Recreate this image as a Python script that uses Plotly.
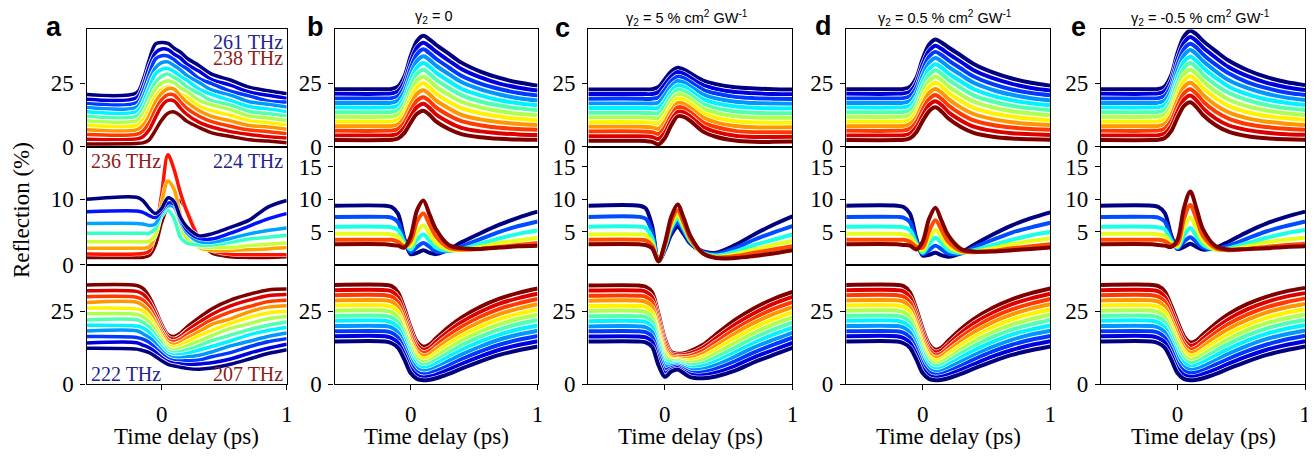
import plotly.graph_objects as go

# ---------------- data ----------------
T = [-0.6, -0.2, -0.15, -0.1, -0.05, 0.0, 0.05, 0.1, 0.15, 0.2, 0.3, 0.4, 0.55, 0.7, 0.85, 1.0]

# panel a (experiment) : curves ordered from highest frequency (navy) to lowest (dark red)
a_top = [
    [20.5, 21.2, 26.0, 34.0, 40.3, 40.9, 40.5, 38.6, 37.1, 34.8, 31.8, 28.5, 26.2, 23.4, 22.0, 20.8],
    [18.7, 19.3, 23.8, 31.3, 36.8, 38.3, 38.1, 36.3, 34.8, 32.5, 29.6, 26.4, 24.2, 21.5, 20.2, 19.0],
    [17.0, 17.4, 21.6, 28.5, 34.4, 35.7, 35.6, 34.1, 32.1, 30.7, 26.8, 24.8, 21.8, 20.0, 18.0, 17.6],
    [15.4, 15.6, 19.4, 25.8, 31.0, 33.0, 33.3, 31.8, 30.2, 28.0, 25.2, 22.3, 20.3, 17.7, 16.7, 15.6],
    [13.8, 13.9, 17.2, 23.1, 28.6, 30.4, 30.7, 29.5, 27.6, 26.2, 22.6, 20.6, 18.2, 15.8, 14.9, 13.8],
    [12.0, 12.1, 15.0, 20.4, 25.3, 27.7, 28.5, 27.2, 25.7, 23.5, 20.9, 18.1, 16.4, 13.9, 13.1, 12.1],
    [10.3, 10.3, 12.8, 17.6, 22.7, 25.0, 25.9, 25.1, 23.1, 21.8, 18.2, 16.5, 14.6, 12.1, 11.3, 10.4],
    [8.5, 8.5, 10.6, 14.9, 19.8, 22.4, 23.6, 22.7, 20.8, 19.5, 16.0, 14.2, 12.4, 10.3, 9.5, 8.6],
    [6.7, 6.7, 8.4, 12.2, 17.5, 21.0, 22.8, 22.6, 20.0, 17.6, 14.2, 12.0, 10.2, 8.4, 7.8, 6.9],
    [4.9, 5.0, 6.2, 9.5, 14.5, 18.5, 20.5, 20.3, 17.6, 15.2, 12.0, 9.9, 8.1, 6.6, 6.0, 5.2],
    [3.0, 3.1, 4.0, 6.7, 11.5, 16.0, 18.2, 18.0, 15.2, 12.8, 9.6, 7.8, 6.0, 4.9, 4.0, 3.5],
    [1.2, 1.4, 1.6, 2.8, 6.5, 10.5, 13.2, 13.7, 12.2, 10.1, 7.6, 5.5, 4.1, 2.8, 2.3, 1.7],
]
a_mid = [
    [10.0, 10.3, 9.8, 8.6, 7.8, 8.6, 10.2, 9.6, 7.2, 5.8, 4.4, 4.7, 5.7, 6.8, 8.8, 9.8],
    [8.1, 8.2, 8.0, 7.5, 7.2, 8.3, 9.4, 9.2, 7.0, 5.3, 4.0, 3.9, 4.8, 5.9, 7.0, 7.8],
    [6.3, 6.3, 6.2, 6.0, 6.2, 8.0, 9.0, 8.8, 6.6, 4.9, 3.5, 3.4, 4.0, 4.7, 5.2, 5.6],
    [4.8, 4.8, 4.8, 4.8, 5.5, 7.5, 8.3, 7.0, 4.2, 3.3, 3.0, 3.0, 3.4, 3.9, 4.2, 4.5],
    [3.5, 3.5, 3.5, 3.6, 4.5, 7.8, 9.5, 8.8, 6.0, 4.0, 2.8, 2.6, 2.6, 2.9, 3.1, 3.3],
    [2.5, 2.5, 2.5, 2.7, 4.5, 9.5, 12.8, 11.5, 7.5, 4.8, 2.6, 2.2, 2.2, 2.3, 2.4, 2.6],
    [1.6, 1.6, 1.7, 2.0, 5.0, 10.8, 16.8, 14.5, 11.0, 8.2, 4.0, 2.2, 1.6, 1.5, 1.5, 1.5],
    [1.1, 1.1, 1.1, 1.4, 3.0, 6.5, 8.8, 9.6, 9.7, 8.3, 4.0, 1.8, 1.2, 1.1, 1.1, 1.2],
]
a_bot = [
    [12.3, 12.0, 11.5, 10.8, 9.5, 8.0, 6.8, 6.2, 5.8, 5.4, 5.1, 5.5, 6.8, 8.6, 10.5, 11.8],
    [14.1, 14.2, 13.4, 12.5, 11.0, 9.1, 7.7, 7.1, 6.9, 6.7, 6.9, 7.3, 8.6, 10.6, 12.3, 13.7],
    [16.3, 16.0, 15.4, 14.3, 12.4, 10.3, 8.7, 8.0, 7.9, 8.0, 8.3, 9.4, 10.8, 12.8, 14.5, 15.6],
    [18.2, 18.3, 17.3, 16.0, 13.9, 11.4, 9.6, 9.0, 9.0, 9.3, 9.9, 11.0, 13.1, 14.7, 16.3, 17.5],
    [20.2, 19.9, 19.3, 17.8, 15.3, 12.6, 10.5, 9.9, 10.1, 10.5, 11.7, 12.9, 14.8, 16.9, 18.4, 19.4],
    [22.0, 22.1, 21.2, 19.5, 16.8, 13.7, 11.4, 10.8, 11.1, 11.8, 13.2, 14.9, 16.8, 18.7, 20.2, 21.3],
    [24.1, 23.9, 23.1, 21.3, 18.2, 14.8, 12.4, 11.7, 12.2, 13.1, 14.8, 16.6, 19.1, 20.7, 22.4, 23.2],
    [26.1, 25.8, 25.1, 23.0, 19.7, 16.0, 13.3, 12.6, 13.3, 14.4, 16.6, 18.4, 20.8, 22.9, 24.4, 25.0],
    [28.0, 28.1, 27.0, 24.8, 21.1, 17.1, 14.2, 13.6, 14.3, 15.7, 18.0, 20.5, 22.4, 24.8, 26.4, 26.9],
    [30.0, 29.8, 28.9, 26.5, 22.6, 18.2, 15.2, 14.5, 15.4, 16.9, 19.6, 22.1, 24.8, 26.6, 28.3, 28.8],
    [32.0, 31.8, 30.9, 28.3, 24.1, 19.4, 16.1, 15.4, 16.4, 18.2, 21.2, 23.9, 26.8, 28.8, 30.3, 30.7],
    [34.0, 33.8, 32.8, 30.0, 25.5, 20.5, 17.0, 16.3, 17.5, 19.5, 22.8, 25.8, 28.8, 30.8, 32.3, 32.6],
]

# panel b : gamma2 = 0
b_top = [
    [22.6, 22.6, 22.7, 23.6, 27.5, 35.5, 41.5, 43.5, 42.0, 40.0, 36.5, 33.0, 29.5, 27.0, 25.2, 24.0],
    [20.8, 20.8, 20.9, 21.8, 25.5, 33.1, 38.9, 40.8, 39.3, 37.3, 33.8, 30.5, 27.2, 24.8, 23.2, 22.1],
    [19.0, 19.0, 19.1, 19.9, 23.5, 30.8, 36.3, 38.2, 36.6, 34.5, 31.1, 27.9, 24.8, 22.7, 21.1, 20.1],
    [17.2, 17.2, 17.3, 18.1, 21.5, 28.4, 33.7, 35.5, 34.0, 31.8, 28.5, 25.4, 22.5, 20.5, 19.1, 18.2],
    [15.4, 15.4, 15.5, 16.2, 19.5, 26.0, 31.1, 32.8, 31.3, 29.1, 25.8, 22.8, 20.2, 18.3, 17.1, 16.3],
    [13.6, 13.6, 13.7, 14.4, 17.5, 23.7, 28.6, 30.2, 28.6, 26.4, 23.1, 20.3, 17.8, 16.2, 15.1, 14.4],
    [11.8, 11.8, 11.9, 12.5, 15.5, 21.3, 26.0, 27.5, 25.9, 23.6, 20.4, 17.7, 15.5, 14.0, 13.0, 12.4],
    [9.9, 9.9, 10.0, 10.7, 13.5, 19.0, 23.4, 24.9, 23.2, 20.9, 17.7, 15.2, 13.2, 11.9, 11.0, 10.5],
    [8.1, 8.1, 8.2, 8.8, 11.5, 16.6, 20.8, 22.2, 20.5, 18.2, 15.1, 12.6, 10.8, 9.7, 9.0, 8.6],
    [6.3, 6.3, 6.4, 7.0, 9.5, 14.2, 18.2, 19.5, 17.9, 15.5, 12.4, 10.1, 8.5, 7.5, 7.0, 6.7],
    [4.5, 4.5, 4.6, 5.1, 7.5, 11.9, 15.6, 16.9, 15.2, 12.7, 9.7, 7.5, 6.1, 5.4, 4.9, 4.7],
    [2.7, 2.7, 2.8, 3.3, 5.5, 9.5, 13.0, 14.2, 12.5, 10.0, 7.0, 5.0, 3.8, 3.2, 2.9, 2.8],
]
b_mid = [
    [9.0, 9.0, 8.8, 7.8, 4.0, 1.6, 1.8, 2.2, 1.8, 1.6, 2.3, 3.4, 4.8, 6.1, 7.2, 8.1],
    [7.3, 7.3, 7.2, 6.5, 3.8, 1.9, 2.7, 3.3, 2.7, 2.0, 2.1, 2.8, 3.9, 5.0, 5.9, 6.6],
    [5.8, 5.8, 5.7, 5.3, 3.4, 2.3, 3.8, 4.6, 3.6, 2.6, 2.1, 2.4, 3.2, 4.0, 4.7, 5.2],
    [4.7, 4.7, 4.6, 4.3, 3.1, 2.8, 5.0, 6.0, 4.7, 3.3, 2.3, 2.2, 2.7, 3.3, 3.7, 4.1],
    [3.8, 3.8, 3.8, 3.5, 2.8, 3.6, 6.6, 7.8, 6.1, 4.3, 2.6, 2.3, 2.4, 2.7, 3.0, 3.3],
    [3.1, 3.1, 3.0, 2.9, 2.6, 4.3, 8.3, 9.8, 7.6, 5.4, 3.0, 2.5, 2.4, 2.6, 2.8, 2.9],
]
b_bot = [
    [14.6, 14.6, 14.0, 12.5, 8.5, 3.8, 1.8, 1.3, 1.5, 2.0, 3.5, 5.3, 7.8, 10.0, 11.6, 12.9],
    [16.4, 16.4, 15.8, 14.2, 10.1, 5.2, 3.0, 2.3, 2.6, 3.2, 5.0, 6.9, 9.5, 11.8, 13.4, 14.7],
    [18.1, 18.1, 17.6, 16.0, 11.7, 6.7, 4.1, 3.4, 3.7, 4.5, 6.4, 8.5, 11.2, 13.5, 15.2, 16.5],
    [19.9, 19.9, 19.4, 17.7, 13.3, 8.1, 5.3, 4.4, 4.8, 5.7, 7.9, 10.1, 12.9, 15.3, 17.0, 18.3],
    [21.7, 21.7, 21.1, 19.4, 14.9, 9.5, 6.4, 5.5, 5.9, 7.0, 9.4, 11.7, 14.6, 17.0, 18.8, 20.1],
    [23.4, 23.4, 22.9, 21.1, 16.5, 10.9, 7.6, 6.5, 7.0, 8.2, 10.8, 13.3, 16.3, 18.8, 20.6, 22.0],
    [25.2, 25.2, 24.7, 22.9, 18.1, 12.4, 8.7, 7.6, 8.1, 9.5, 12.3, 14.9, 18.0, 20.5, 22.4, 23.8],
    [27.0, 27.0, 26.5, 24.6, 19.6, 13.8, 9.9, 8.6, 9.2, 10.7, 13.8, 16.4, 19.7, 22.3, 24.1, 25.6],
    [28.7, 28.7, 28.3, 26.3, 21.2, 15.2, 11.0, 9.7, 10.3, 12.0, 15.2, 18.0, 21.4, 24.0, 25.9, 27.4],
    [30.5, 30.5, 30.0, 28.1, 22.8, 16.7, 12.2, 10.7, 11.4, 13.2, 16.7, 19.6, 23.1, 25.8, 27.7, 29.2],
    [32.2, 32.2, 31.8, 29.8, 24.4, 18.1, 13.4, 11.8, 12.5, 14.5, 18.1, 21.2, 24.8, 27.6, 29.5, 31.0],
    [34.0, 34.0, 33.6, 31.5, 26.0, 19.5, 14.5, 12.8, 13.6, 15.7, 19.6, 22.8, 26.5, 29.3, 31.3, 32.8],
]

# panel c : gamma2 = 5 % cm2/GW
c_top = [
    [22.5, 22.5, 22.5, 22.6, 23.5, 26.5, 29.5, 31.0, 30.3, 28.8, 26.0, 24.6, 23.4, 22.9, 22.6, 22.5],
    [20.7, 20.7, 20.7, 20.7, 21.5, 24.4, 27.6, 29.3, 28.6, 27.1, 24.2, 22.7, 21.5, 21.0, 20.7, 20.6],
    [18.9, 18.9, 18.8, 18.9, 19.4, 22.3, 25.7, 27.5, 26.9, 25.4, 22.4, 20.9, 19.6, 19.1, 18.9, 18.8],
    [17.0, 17.0, 17.0, 17.0, 17.4, 20.2, 23.8, 25.8, 25.3, 23.7, 20.5, 19.0, 17.7, 17.2, 17.0, 16.9],
    [15.2, 15.2, 15.2, 15.1, 15.3, 18.1, 21.9, 24.1, 23.6, 22.0, 18.7, 17.1, 15.8, 15.3, 15.1, 15.1],
    [13.4, 13.4, 13.3, 13.2, 13.3, 16.1, 20.0, 22.4, 21.9, 20.4, 16.9, 15.2, 13.9, 13.4, 13.2, 13.2],
    [11.5, 11.5, 11.5, 11.4, 11.2, 14.0, 18.1, 20.6, 20.2, 18.7, 15.1, 13.4, 12.0, 11.5, 11.4, 11.4],
    [9.7, 9.7, 9.6, 9.5, 9.2, 11.9, 16.1, 18.9, 18.5, 17.0, 13.3, 11.5, 10.1, 9.6, 9.5, 9.5],
    [7.9, 7.9, 7.8, 7.6, 7.1, 9.8, 14.2, 17.2, 16.9, 15.3, 11.5, 9.6, 8.2, 7.7, 7.6, 7.7],
    [6.1, 6.1, 6.0, 5.8, 5.1, 7.7, 12.3, 15.5, 15.2, 13.6, 9.6, 7.8, 6.3, 5.8, 5.8, 5.8],
    [4.2, 4.2, 4.1, 3.9, 3.1, 5.6, 10.4, 13.7, 13.5, 11.9, 7.8, 5.9, 4.4, 3.9, 3.9, 4.0],
    [2.4, 2.4, 2.3, 2.0, 1.0, 3.5, 8.5, 12.0, 11.8, 10.2, 6.0, 4.0, 2.5, 2.0, 2.0, 2.1],
]
c_mid = [
    [9.0, 9.0, 8.6, 5.9, 0.5, 2.2, 4.6, 5.8, 4.6, 3.2, 2.0, 1.8, 3.0, 4.6, 6.1, 7.4],
    [7.3, 7.3, 7.0, 5.0, 0.5, 2.4, 5.1, 6.4, 5.0, 3.4, 1.9, 1.6, 2.5, 3.8, 4.9, 5.9],
    [5.8, 5.8, 5.6, 4.1, 0.5, 2.6, 5.6, 7.0, 5.4, 3.6, 1.8, 1.4, 2.0, 3.0, 3.8, 4.6],
    [4.6, 4.6, 4.5, 3.4, 0.5, 2.8, 6.0, 7.5, 5.8, 3.8, 1.7, 1.2, 1.6, 2.3, 3.0, 3.6],
    [3.8, 3.8, 3.7, 2.9, 0.5, 3.0, 6.6, 8.3, 6.3, 4.0, 1.7, 1.1, 1.3, 1.8, 2.3, 2.8],
    [3.1, 3.1, 3.0, 2.5, 0.5, 3.3, 7.3, 9.2, 7.0, 4.4, 1.7, 1.0, 1.0, 1.3, 1.7, 2.2],
]
c_bot = [
    [14.6, 14.6, 14.3, 12.8, 6.5, 2.5, 4.3, 5.0, 3.7, 2.4, 2.0, 2.6, 4.6, 7.5, 10.0, 12.4],
    [16.3, 16.3, 16.0, 14.5, 8.1, 3.7, 4.9, 5.5, 4.3, 3.2, 3.0, 3.9, 6.2, 9.2, 11.7, 14.1],
    [18.1, 18.1, 17.8, 16.2, 9.7, 4.9, 5.5, 6.0, 5.0, 4.0, 4.1, 5.2, 7.8, 10.9, 13.5, 15.9],
    [19.8, 19.8, 19.5, 17.9, 11.3, 6.1, 6.1, 6.5, 5.6, 4.8, 5.1, 6.5, 9.4, 12.6, 15.2, 17.6],
    [21.6, 21.6, 21.3, 19.6, 12.9, 7.2, 6.7, 7.0, 6.2, 5.6, 6.2, 7.8, 10.9, 14.2, 17.0, 19.4],
    [23.3, 23.3, 23.0, 21.3, 14.5, 8.4, 7.4, 7.5, 6.8, 6.5, 7.2, 9.2, 12.5, 15.9, 18.7, 21.1],
    [25.1, 25.1, 24.7, 23.0, 16.1, 9.6, 8.0, 8.0, 7.5, 7.3, 8.3, 10.5, 14.1, 17.6, 20.5, 22.9],
    [26.8, 26.8, 26.5, 24.7, 17.6, 10.8, 8.6, 8.4, 8.1, 8.1, 9.3, 11.8, 15.7, 19.3, 22.2, 24.6],
    [28.6, 28.6, 28.2, 26.4, 19.2, 12.0, 9.2, 8.9, 8.7, 8.9, 10.4, 13.1, 17.3, 21.0, 24.0, 26.4],
    [30.3, 30.3, 29.9, 28.1, 20.8, 13.1, 9.8, 9.4, 9.4, 9.7, 11.4, 14.4, 18.8, 22.6, 25.7, 28.1],
    [32.1, 32.1, 31.7, 29.8, 22.4, 14.3, 10.4, 9.9, 10.0, 10.5, 12.5, 15.7, 20.4, 24.3, 27.5, 29.9],
    [33.8, 33.8, 33.4, 31.5, 24.0, 15.5, 11.0, 10.4, 10.6, 11.3, 13.5, 17.0, 22.0, 26.0, 29.2, 31.6],
]

# panel d : gamma2 = 0.5 % cm2/GW
d_top = [
    [22.6, 22.6, 22.7, 23.5, 27.0, 34.5, 40.0, 42.0, 40.8, 39.0, 35.8, 32.5, 29.2, 26.8, 25.1, 24.0],
    [20.8, 20.8, 20.9, 21.7, 25.1, 32.3, 37.6, 39.6, 38.3, 36.5, 33.3, 30.0, 26.9, 24.7, 23.1, 22.1],
    [19.0, 19.0, 19.1, 19.9, 23.2, 30.1, 35.3, 37.2, 35.9, 34.0, 30.7, 27.6, 24.6, 22.5, 21.1, 20.2],
    [17.2, 17.2, 17.3, 18.0, 21.2, 27.9, 32.9, 34.8, 33.4, 31.4, 28.2, 25.1, 22.3, 20.4, 19.1, 18.2],
    [15.4, 15.4, 15.5, 16.2, 19.3, 25.7, 30.5, 32.4, 31.0, 28.9, 25.6, 22.7, 20.0, 18.3, 17.1, 16.3],
    [13.6, 13.6, 13.7, 14.4, 17.4, 23.5, 28.2, 30.0, 28.5, 26.4, 23.1, 20.2, 17.8, 16.1, 15.1, 14.4],
    [11.8, 11.8, 11.9, 12.5, 15.4, 21.3, 25.8, 27.6, 26.1, 23.8, 20.5, 17.8, 15.5, 14.0, 13.1, 12.4],
    [9.9, 9.9, 10.0, 10.7, 13.5, 19.0, 23.5, 25.1, 23.6, 21.3, 18.0, 15.3, 13.2, 11.9, 11.0, 10.5],
    [8.1, 8.1, 8.2, 8.9, 11.6, 16.8, 21.1, 22.7, 21.2, 18.8, 15.4, 12.9, 10.9, 9.7, 9.0, 8.6],
    [6.3, 6.3, 6.4, 7.1, 9.7, 14.6, 18.7, 20.3, 18.7, 16.3, 12.9, 10.4, 8.6, 7.6, 7.0, 6.7],
    [4.5, 4.5, 4.6, 5.2, 7.7, 12.4, 16.4, 17.9, 16.3, 13.7, 10.4, 8.0, 6.3, 5.4, 5.0, 4.7],
    [2.7, 2.7, 2.8, 3.4, 5.8, 10.2, 14.0, 15.5, 13.8, 11.2, 7.8, 5.5, 4.0, 3.3, 3.0, 2.8],
]
d_mid = [
    [9.0, 9.0, 8.8, 7.8, 4.0, 1.4, 1.5, 1.8, 1.4, 1.2, 1.8, 3.0, 4.6, 6.0, 7.1, 8.0],
    [7.3, 7.3, 7.2, 6.5, 3.7, 1.6, 2.2, 2.9, 2.3, 1.7, 1.7, 2.6, 3.8, 4.9, 5.7, 6.4],
    [5.8, 5.8, 5.7, 5.3, 3.3, 1.8, 3.1, 4.1, 3.2, 2.2, 1.8, 2.2, 3.0, 3.8, 4.5, 5.0],
    [4.7, 4.7, 4.6, 4.3, 3.0, 2.1, 4.0, 5.3, 4.1, 2.8, 1.9, 2.0, 2.5, 3.1, 3.6, 4.0],
    [3.8, 3.8, 3.8, 3.5, 2.7, 2.6, 5.1, 6.8, 5.2, 3.5, 2.1, 1.9, 2.1, 2.5, 2.8, 3.1],
    [3.1, 3.1, 3.0, 2.9, 2.3, 3.5, 7.0, 8.7, 6.6, 4.5, 2.4, 2.0, 2.0, 2.2, 2.4, 2.6],
]
d_bot = [
    [14.6, 14.6, 14.0, 12.5, 8.5, 3.8, 1.8, 1.3, 1.5, 2.0, 3.5, 5.3, 7.8, 10.0, 11.6, 12.9],
    [16.4, 16.4, 15.8, 14.2, 10.1, 5.2, 2.9, 2.3, 2.5, 3.2, 4.9, 6.8, 9.5, 11.7, 13.4, 14.7],
    [18.1, 18.1, 17.6, 16.0, 11.7, 6.6, 4.0, 3.2, 3.5, 4.3, 6.3, 8.4, 11.2, 13.5, 15.2, 16.5],
    [19.9, 19.9, 19.4, 17.7, 13.2, 8.0, 5.1, 4.2, 4.5, 5.5, 7.7, 9.9, 12.8, 15.2, 17.0, 18.3],
    [21.7, 21.7, 21.1, 19.4, 14.8, 9.3, 6.1, 5.1, 5.5, 6.7, 9.1, 11.5, 14.5, 17.0, 18.7, 20.1],
    [23.4, 23.4, 22.9, 21.1, 16.4, 10.7, 7.2, 6.1, 6.6, 7.8, 10.5, 13.0, 16.2, 18.7, 20.5, 22.0],
    [25.2, 25.2, 24.7, 22.9, 17.9, 12.1, 8.3, 7.0, 7.6, 9.0, 11.9, 14.6, 17.8, 20.4, 22.3, 23.8],
    [27.0, 27.0, 26.5, 24.6, 19.5, 13.5, 9.4, 8.0, 8.6, 10.2, 13.3, 16.1, 19.5, 22.2, 24.1, 25.6],
    [28.7, 28.7, 28.3, 26.3, 21.1, 14.9, 10.5, 8.9, 9.6, 11.3, 14.7, 17.7, 21.2, 23.9, 25.9, 27.4],
    [30.5, 30.5, 30.0, 28.1, 22.7, 16.2, 11.5, 9.9, 10.6, 12.5, 16.1, 19.2, 22.9, 25.6, 27.6, 29.2],
    [32.2, 32.2, 31.8, 29.8, 24.2, 17.6, 12.6, 10.9, 11.6, 13.6, 17.5, 20.8, 24.5, 27.4, 29.4, 31.0],
    [34.0, 34.0, 33.6, 31.5, 25.8, 19.0, 13.7, 11.8, 12.6, 14.8, 18.9, 22.3, 26.2, 29.1, 31.2, 32.8],
]

# panel e : gamma2 = -0.5 % cm2/GW
e_top = [
    [22.6, 22.6, 22.7, 23.7, 28.0, 36.8, 43.2, 45.5, 44.0, 41.5, 37.5, 33.8, 30.0, 27.3, 25.4, 24.2],
    [20.8, 20.8, 20.9, 21.9, 26.0, 34.5, 40.7, 43.0, 41.4, 38.9, 34.9, 31.3, 27.7, 25.1, 23.4, 22.3],
    [19.0, 19.0, 19.1, 20.0, 24.0, 32.2, 38.3, 40.4, 38.8, 36.2, 32.2, 28.8, 25.3, 23.0, 21.3, 20.3],
    [17.2, 17.2, 17.3, 18.2, 22.1, 29.9, 35.8, 37.9, 36.2, 33.6, 29.6, 26.2, 23.0, 20.8, 19.3, 18.4],
    [15.4, 15.4, 15.5, 16.4, 20.1, 27.6, 33.3, 35.3, 33.6, 31.0, 27.0, 23.7, 20.6, 18.6, 17.3, 16.4],
    [13.6, 13.6, 13.7, 14.5, 18.1, 25.3, 30.8, 32.8, 31.1, 28.3, 24.3, 21.2, 18.3, 16.4, 15.2, 14.5],
    [11.8, 11.8, 11.9, 12.7, 16.1, 23.0, 28.4, 30.2, 28.5, 25.7, 21.7, 18.6, 15.9, 14.3, 13.2, 12.5],
    [9.9, 9.9, 10.0, 10.9, 14.1, 20.7, 25.9, 27.7, 25.9, 23.1, 19.1, 16.1, 13.6, 12.1, 11.2, 10.6],
    [8.1, 8.1, 8.2, 9.0, 12.2, 18.4, 23.4, 25.1, 23.3, 20.4, 16.4, 13.6, 11.2, 9.9, 9.1, 8.6],
    [6.3, 6.3, 6.4, 7.2, 10.2, 16.1, 21.0, 22.6, 20.7, 17.8, 13.8, 11.1, 8.9, 7.8, 7.1, 6.7],
    [4.5, 4.5, 4.6, 5.3, 8.2, 13.8, 18.5, 20.1, 18.1, 15.1, 11.1, 8.5, 6.6, 5.6, 5.0, 4.8],
    [2.7, 2.7, 2.8, 3.5, 6.2, 11.5, 16.0, 17.5, 15.5, 12.5, 8.5, 6.0, 4.2, 3.4, 3.0, 2.8],
]
e_mid = [
    [9.0, 9.0, 8.8, 7.9, 4.5, 2.4, 2.7, 3.2, 2.7, 2.3, 2.6, 3.5, 5.0, 6.3, 7.3, 8.1],
    [7.3, 7.3, 7.2, 6.6, 4.1, 2.5, 3.5, 4.2, 3.4, 2.6, 2.4, 2.9, 4.0, 5.1, 5.9, 6.6],
    [5.8, 5.8, 5.7, 5.4, 3.7, 2.6, 4.4, 5.6, 4.3, 3.0, 2.3, 2.5, 3.3, 4.1, 4.8, 5.3],
    [4.7, 4.7, 4.6, 4.4, 3.3, 2.8, 5.6, 7.2, 5.5, 3.6, 2.3, 2.3, 2.8, 3.4, 3.8, 4.1],
    [3.8, 3.8, 3.8, 3.6, 3.0, 3.2, 7.0, 9.1, 6.9, 4.4, 2.5, 2.2, 2.4, 2.7, 3.0, 3.2],
    [3.1, 3.1, 3.0, 2.9, 2.7, 3.8, 8.6, 11.2, 8.5, 5.4, 2.8, 2.3, 2.4, 2.5, 2.7, 2.8],
]
e_bot = [
    [14.6, 14.6, 14.0, 12.5, 8.5, 3.8, 1.8, 1.3, 1.5, 2.0, 3.5, 5.3, 7.8, 10.0, 11.6, 12.9],
    [16.4, 16.4, 15.8, 14.3, 10.2, 5.4, 3.1, 2.5, 2.7, 3.4, 5.1, 7.0, 9.6, 11.8, 13.4, 14.7],
    [18.1, 18.1, 17.6, 16.0, 11.9, 7.0, 4.5, 3.7, 4.0, 4.7, 6.7, 8.7, 11.4, 13.6, 15.3, 16.6],
    [19.9, 19.9, 19.4, 17.8, 13.6, 8.6, 5.8, 4.9, 5.2, 6.1, 8.2, 10.4, 13.2, 15.5, 17.1, 18.4],
    [21.7, 21.7, 21.1, 19.5, 15.2, 10.2, 7.2, 6.0, 6.4, 7.5, 9.8, 12.1, 15.0, 17.3, 19.0, 20.2],
    [23.4, 23.4, 22.9, 21.3, 16.9, 11.9, 8.5, 7.2, 7.6, 8.8, 11.4, 13.8, 16.8, 19.1, 20.8, 22.0],
    [25.2, 25.2, 24.7, 23.0, 18.6, 13.5, 9.8, 8.4, 8.9, 10.2, 12.9, 15.5, 18.6, 20.9, 22.6, 23.9],
    [27.0, 27.0, 26.5, 24.8, 20.3, 15.1, 11.2, 9.6, 10.1, 11.6, 14.5, 17.2, 20.3, 22.7, 24.5, 25.7],
    [28.7, 28.7, 28.3, 26.5, 22.0, 16.7, 12.5, 10.8, 11.3, 12.9, 16.1, 18.9, 22.1, 24.6, 26.3, 27.5],
    [30.5, 30.5, 30.0, 28.3, 23.6, 18.3, 13.8, 11.9, 12.5, 14.3, 17.7, 20.6, 23.9, 26.4, 28.1, 29.4],
    [32.2, 32.2, 31.8, 30.0, 25.3, 19.9, 15.2, 13.1, 13.8, 15.6, 19.2, 22.3, 25.7, 28.2, 30.0, 31.2],
    [34.0, 34.0, 33.6, 31.8, 27.0, 21.5, 16.5, 14.3, 15.0, 17.0, 20.8, 24.0, 27.5, 30.0, 31.8, 33.0],
]

panel_letters = ["a", "b", "c", "d", "e"]
panel_titles = ["", "γ<sub>2</sub> = 0", "γ<sub>2</sub> = 5 % cm<sup>2</sup> GW<sup>-1</sup>",
                "γ<sub>2</sub> = 0.5 % cm<sup>2</sup> GW<sup>-1</sup>",
                "γ<sub>2</sub> = -0.5 % cm<sup>2</sup> GW<sup>-1</sup>"]
freq_labels = [("261 THz", "top", "right", 0), ("238 THz", "top2", "right", 1),
               ("236 THz", "mid", "left", 1), ("224 THz", "mid", "right", 0),
               ("222 THz", "bot", "left", 0), ("207 THz", "bot", "right", 1)]
x_ticks = [0, 1]
y_ticks = [[0, 25], [0, 10], [0, 25]]
y_ticks_model = [[0, 25], [5, 10, 15], [0, 25]]
y_ranges = [[0, 46], [0, 18], [0, 41]]

# ---------------- styling / layout ----------------
W, H = 1315, 462
COLS = [(79, 280), (328, 532), (583, 788), (842, 1047), (1098, 1303)]
ROWS = [(22, 143), (143, 264), (264, 387)]
NAVY_TXT = "#23238f"
RED_TXT = "#8c1b1b"
SERIF = "Liberation Serif"
SANS = "Liberation Sans"


def jet(x):
    r = min(max(1.5 - abs(4 * x - 3), 0), 1)
    g = min(max(1.5 - abs(4 * x - 2), 0), 1)
    b = min(max(1.5 - abs(4 * x - 1), 0), 1)
    return f"rgb({round(r * 255)},{round(g * 255)},{round(b * 255)})"


panels = [[a_top, a_mid, a_bot], [b_top, b_mid, b_bot], [c_top, c_mid, c_bot],
          [d_top, d_mid, d_bot], [e_top, e_mid, e_bot]]

fig = go.Figure()
layout = {}
for c in range(5):
    for r in range(3):
        n = r * 5 + c + 1
        xs = "x" if n == 1 else f"x{n}"
        ys_ = "y" if n == 1 else f"y{n}"
        curves = panels[c][r]
        m = len(curves)
        lw = 3.5 if c == 0 else 4.0
        order = list(range(m))
        if r == 2 or (r == 1 and c == 0):
            order = order[::-1]
        if r == 1:
            outline = 1.0 if c == 0 else 0
        else:
            outline = 1.6 if c == 0 else 1.2
        for k in order:
            vals = curves[k]
            col = jet(k / (m - 1))
            if outline > 0:
                fig.add_trace(go.Scatter(x=T, y=vals, xaxis=xs, yaxis=ys_, mode="lines",
                                         line=dict(color="white", width=lw + outline, shape="spline", smoothing=0.9),
                                         hoverinfo="skip", showlegend=False))
            fig.add_trace(go.Scatter(x=T, y=vals, xaxis=xs, yaxis=ys_, mode="lines",
                                     line=dict(color=col, width=lw, shape="spline", smoothing=0.9),
                                     hoverinfo="skip", showlegend=False))
        x0, x1 = COLS[c]
        y0, y1 = ROWS[r]
        common = dict(showline=True, mirror=True, linecolor="black", linewidth=1.4,
                      showgrid=False, zeroline=False,
                      tickfont=dict(family=SERIF, size=23, color="black"))
        xa = dict(domain=[x0 / W, x1 / W], range=[-0.6, 1.0], anchor=ys_, **common)
        if r == 2:
            xa.update(tickvals=x_ticks, ticktext=[str(v) for v in x_ticks], ticks="outside",
                      ticklen=5, tickwidth=1.4, tickcolor="black", ticklabelstandoff=4)
        else:
            xa.update(showticklabels=False, ticks="")
        yt = y_ticks[r] if c == 0 else y_ticks_model[r]
        ya = dict(domain=[1 - y1 / H, 1 - y0 / H], range=y_ranges[r], anchor=xs,
                  tickvals=yt, ticktext=[str(v) for v in yt], ticks="outside", ticklen=5,
                  tickwidth=1.4, tickcolor="black", ticklabelstandoff=2, **common)
        layout["xaxis" if n == 1 else f"xaxis{n}"] = xa
        layout["yaxis" if n == 1 else f"yaxis{n}"] = ya

ann = []
letter_pos = [(46, 20), (309, 20), (557, 21), (819, 19), (1075, 20)]
for c in range(5):
    lx, ly = letter_pos[c]
    ann.append(dict(x=lx / W, y=1 - ly / H, xref="paper", yref="paper", text=f"<b>{panel_letters[c]}</b>",
                    showarrow=False, xanchor="center", yanchor="middle",
                    font=dict(family=SANS, size=27, color="black")))
    cx = (COLS[c][0] + COLS[c][1]) / 2
    if panel_titles[c]:
        ann.append(dict(x=(cx - 3) / W, y=1.0, xref="paper", yref="paper", text=panel_titles[c],
                        showarrow=False, xanchor="center", yanchor="top", yshift=2,
                        font=dict(family=SANS, size=14.5, color="black")))
    ann.append(dict(x=cx / W, y=1 - 441 / H, xref="paper", yref="paper", text="Time delay (ps)",
                    showarrow=False, xanchor="center", yanchor="middle",
                    font=dict(family=SERIF, size=23, color="black")))

ann.append(dict(x=13 / W, y=1 - 208 / H, xref="paper", yref="paper", text="Reflection (%)",
                showarrow=False, textangle=-90, xanchor="center", yanchor="middle",
                font=dict(family=SERIF, size=23, color="black")))

label_y = {"top": 35, "top2": 51, "mid": 157, "bot": 377}
for text, key, side, red in freq_labels:
    xp = 278 if side == "right" else 81
    ann.append(dict(x=xp / W, y=1 - label_y[key] / H, xref="paper", yref="paper", text=text,
                    showarrow=False, xanchor=side, yanchor="middle",
                    font=dict(family=SERIF, size=20, color=RED_TXT if red else NAVY_TXT)))

fig.update_layout(width=W, height=H, margin=dict(l=0, r=0, t=0, b=0),
                  paper_bgcolor="white", plot_bgcolor="white", showlegend=False,
                  annotations=ann, **layout)
fig.write_html("out.html")
